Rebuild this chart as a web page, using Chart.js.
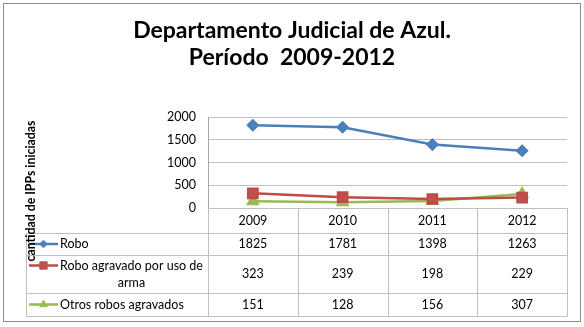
<!DOCTYPE html>
<html>
<head>
<meta charset="utf-8">
<script src="https://cdn.jsdelivr.net/npm/chart.js@4"></script>
<style>
html, body { margin: 0; padding: 0; background: #fff; }
</style>
</head>
<body>
<canvas id="grafico" width="584" height="327"></canvas>
<script>
// Datos del grafico
var years = ["2009", "2010", "2011", "2012"];
var seriesNames = ["Robo", "Robo agravado por uso de arma", "Otros robos agravados"];
var robo = [1825, 1781, 1398, 1263];
var roboArma = [323, 239, 198, 229];
var otrosRobos = [151, 128, 156, 307];
var yTicks = [0, 500, 1000, 1500, 2000];
var titulo = ["Departamento Judicial de Azul.", "Período  2009-2012"];
var ejeY = "cantidad de IPPs iniciadas";

var fuente = "Lato, 'Open Sans', sans-serif";

// Corta el texto de la leyenda en lineas
function cortarTexto(ctx, texto, ancho) {
    var palabras = texto.split(" ");
    var lineas = [];
    var actual = "";
    for (var i = 0; i < palabras.length; i++) {
        var prueba = actual ? actual + " " + palabras[i] : palabras[i];
        if (ctx.measureText(prueba).width > ancho && actual) {
            lineas.push(actual);
            actual = palabras[i];
        } else {
            actual = prueba;
        }
    }
    lineas.push(actual);
    return lineas;
}

// Plugin: marco, tabla de datos y titulo del eje
var tablaDatos = {
    id: "tablaDatos",
    beforeDraw: function(chart) {
        var ctx = chart.ctx;
        ctx.save();
        ctx.fillStyle = "#fff";
        ctx.fillRect(0, 0, chart.width, chart.height);
        ctx.strokeStyle = "#8c8c8c";
        ctx.lineWidth = 1;
        ctx.strokeRect(3.5, 3.5, 577, 318);
        ctx.restore();
    },
    afterDraw: function(chart) {
        var ctx = chart.ctx;
        var area = chart.chartArea;
        var xs = chart.scales.x;
        var colW = (area.right - area.left) / years.length;
        var filas = [area.bottom, area.bottom + 25, area.bottom + 47, area.bottom + 85, area.bottom + 108];
        var izq = 26;
        ctx.save();
        ctx.strokeStyle = "#bfbfbf";
        ctx.lineWidth = 1;
        ctx.beginPath();
        for (var i = 1; i < filas.length; i++) {
            ctx.moveTo(izq, Math.round(filas[i]) + 0.5);
            ctx.lineTo(area.right, Math.round(filas[i]) + 0.5);
        }
        for (var k = 0; k <= years.length; k++) {
            var x = Math.round(area.left + k * colW) + 0.5;
            ctx.moveTo(x, filas[0]);
            ctx.lineTo(x, filas[4] + 0.5);
        }
        ctx.moveTo(izq + 0.5, filas[1]);
        ctx.lineTo(izq + 0.5, filas[4] + 0.5);
        ctx.stroke();

        ctx.fillStyle = "#000";
        ctx.font = "12.5px " + fuente;
        ctx.textAlign = "center";
        ctx.textBaseline = "middle";
        years.forEach(function(y, i) {
            ctx.fillText(y, xs.getPixelForValue(i), (filas[0] + filas[1]) / 2);
        });

        chart.data.datasets.forEach(function(ds, d) {
            var cy = (filas[d + 1] + filas[d + 2]) / 2;
            ctx.textAlign = "center";
            ds.data.forEach(function(v, i) {
                ctx.fillText(String(v), xs.getPixelForValue(i), cy);
            });
            var lineas = cortarTexto(ctx, ds.label, 146);
            var y0 = cy - (lineas.length - 1) * 8.5;
            // muestra de la serie
            ctx.strokeStyle = ds.borderColor;
            ctx.lineWidth = 2.5;
            ctx.beginPath();
            ctx.moveTo(29, y0);
            ctx.lineTo(58, y0);
            ctx.stroke();
            ctx.fillStyle = ds.backgroundColor;
            ctx.strokeStyle = ds.backgroundColor;
            ctx.lineWidth = 1;
            Chart.helpers.drawPoint(ctx, {pointStyle: ds.pointStyle, radius: ds.pointRadius * 0.8, rotation: 0, borderWidth: 1}, 43.5, y0);
            ctx.fillStyle = "#000";
            var w1 = ctx.measureText(lineas[0]).width;
            ctx.textAlign = "left";
            ctx.fillText(lineas[0], 60, y0);
            ctx.textAlign = "center";
            for (var j = 1; j < lineas.length; j++) {
                ctx.fillText(lineas[j], 60 + w1 / 2, y0 + j * 17);
            }
        });

        // titulo del eje vertical
        ctx.save();
        ctx.translate(31, 191);
        ctx.rotate(-Math.PI / 2);
        ctx.font = "bold 13.5px " + fuente;
        ctx.textAlign = "center";
        ctx.textBaseline = "middle";
        ctx.fillStyle = "#000";
        ctx.fillText(ejeY, 0, 0, 141);
        ctx.restore();
        ctx.restore();
    }
};

var canvas = document.getElementById("grafico");
var graph = new Chart(canvas, {
    type: "line",
    data: {
        labels: years,
        datasets: [{
            label: seriesNames[0],
            data: robo,
            borderColor: "#4a7ebb",
            backgroundColor: "#4f81bd",
            pointStyle: "rectRot",
            pointRadius: 4.8,
            borderWidth: 2.5
        }, {
            label: seriesNames[1],
            data: roboArma,
            borderColor: "#be4b48",
            backgroundColor: "#c0504d",
            pointStyle: "rect",
            pointRadius: 6.5,
            borderWidth: 2.5
        }, {
            label: seriesNames[2],
            data: otrosRobos,
            borderColor: "#98b954",
            backgroundColor: "#9bbb59",
            pointStyle: "triangle",
            pointRadius: 5.5,
            borderWidth: 2.5
        }]
    },
    options: {
        responsive: false,
        animation: false,
        events: [],
        layout: { padding: { left: 17, right: 17, top: 0, bottom: 119 } },
        plugins: {
            legend: { display: false },
            tooltip: { enabled: false },
            title: {
                display: true,
                text: titulo,
                color: "#000",
                font: { family: fuente, size: 23, weight: "bold", lineHeight: 1.18 },
                padding: { top: 17, bottom: 46 }
            }
        },
        scales: {
            x: { type: "category", offset: true, display: false },
            y: {
                min: 0,
                max: 2000,
                afterBuildTicks: function(scale) {
                    scale.ticks = yTicks.map(function(v) { return { value: v }; });
                },
                afterFit: function(scale) { scale.width = 191; },
                grid: { color: "#bfbfbf", drawTicks: false },
                border: { display: true, color: "#a6a6a6" },
                ticks: {
                    color: "#000",
                    padding: 12,
                    font: { family: fuente, size: 12.5 },
                    callback: function(v) { return String(v); }
                }
            }
        }
    },
    plugins: [tablaDatos]
});
</script>
</body>
</html>
